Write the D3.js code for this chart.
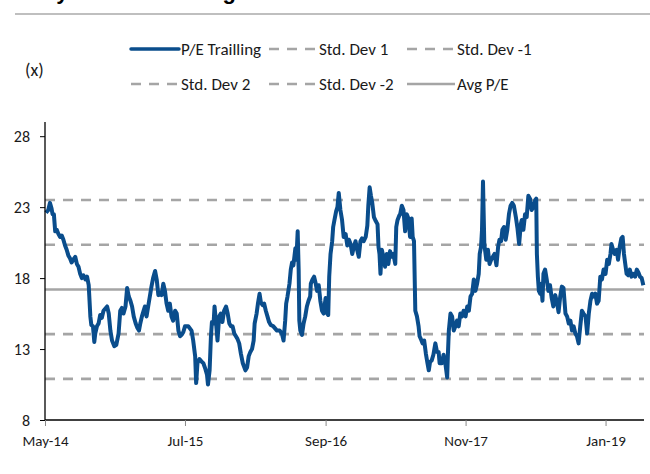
<!DOCTYPE html>
<html>
<head>
<meta charset="utf-8">
<script src="https://cdn.jsdelivr.net/npm/d3@7"></script>
<style>
  body { margin: 0; background: #fff; }
  svg { display: block; font-family: Carlito, Lato, "Liberation Sans", sans-serif; }
</style>
</head>
<body>
<svg width="650" height="474"></svg>
<script>
// P/E trailing [date, value]
const peSeries = [
  ["2014-05-04",22.6],["2014-05-11",22.8],["2014-05-16",23.3],["2014-05-21",22.9],["2014-05-24",22.5],["2014-05-28",22.5],
  ["2014-06-01",21.3],["2014-06-06",21.4],["2014-06-11",21.1],["2014-06-16",20.9],["2014-06-21",21.0],["2014-06-26",20.7],
  ["2014-07-01",20.3],["2014-07-06",20.0],["2014-07-11",19.6],["2014-07-16",19.4],["2014-07-21",19.1],["2014-07-26",19.3],
  ["2014-08-01",19.5],["2014-08-06",19.0],["2014-08-11",18.8],["2014-08-16",18.3],["2014-08-21",18.0],["2014-08-26",18.2],
  ["2014-09-01",17.9],["2014-09-06",18.1],["2014-09-11",17.5],["2014-09-14",16.2],["2014-09-16",15.3],["2014-09-19",14.7],
  ["2014-09-24",14.6],["2014-09-28",13.5],["2014-10-01",14.1],["2014-10-06",14.6],["2014-10-11",14.8],["2014-10-16",15.4],
  ["2014-10-21",15.2],["2014-10-26",15.7],["2014-11-06",16.0],["2014-11-11",15.5],["2014-11-16",14.3],["2014-11-21",13.6],
  ["2014-11-28",13.2],["2014-12-04",13.3],["2014-12-11",14.1],["2014-12-16",15.7],["2014-12-21",15.9],["2014-12-26",15.5],
  ["2015-01-01",16.0],["2015-01-06",17.3],["2015-01-11",16.7],["2015-01-16",16.4],["2015-01-21",16.0],["2015-01-26",15.3],
  ["2015-02-01",14.8],["2015-02-06",14.5],["2015-02-11",14.3],["2015-02-15",14.8],["2015-02-20",15.3],["2015-02-25",15.7],
  ["2015-03-01",16.0],["2015-03-06",15.3],["2015-03-11",16.0],["2015-03-16",16.7],["2015-03-21",17.4],["2015-03-26",18.0],
  ["2015-04-01",18.5],["2015-04-06",17.9],["2015-04-11",16.8],["2015-04-16",17.0],["2015-04-21",16.8],["2015-04-26",17.6],
  ["2015-05-01",17.1],["2015-05-06",16.2],["2015-05-11",15.7],["2015-05-16",16.2],["2015-05-21",15.3],["2015-05-26",15.0],
  ["2015-06-01",15.7],["2015-06-06",15.5],["2015-06-11",14.3],["2015-06-16",13.9],["2015-06-21",14.0],["2015-06-26",14.2],
  ["2015-07-01",14.6],["2015-07-11",14.6],["2015-07-21",14.3],["2015-07-26",13.6],["2015-08-01",12.5],["2015-08-04",10.6],
  ["2015-08-08",12.0],["2015-08-14",12.3],["2015-08-21",12.1],["2015-08-26",12.0],["2015-09-01",11.6],["2015-09-06",11.2],
  ["2015-09-09",10.5],["2015-09-14",11.5],["2015-09-18",13.9],["2015-09-21",14.9],["2015-09-26",14.8],["2015-09-29",16.0],
  ["2015-10-03",15.0],["2015-10-08",13.6],["2015-10-13",15.3],["2015-10-18",15.5],["2015-10-23",14.9],["2015-10-28",15.7],
  ["2015-11-03",16.0],["2015-11-08",15.5],["2015-11-13",14.8],["2015-11-18",14.6],["2015-11-23",14.6],["2015-11-28",14.1],
  ["2015-12-03",13.9],["2015-12-08",13.7],["2015-12-13",13.4],["2015-12-18",12.7],["2015-12-24",12.0],["2016-01-01",11.5],
  ["2016-01-06",11.7],["2016-01-11",12.5],["2016-01-16",12.8],["2016-01-21",13.0],["2016-01-26",13.6],["2016-01-29",14.8],
  ["2016-02-04",15.5],["2016-02-08",16.2],["2016-02-13",16.9],["2016-02-17",16.3],["2016-02-22",16.1],["2016-02-27",16.2],
  ["2016-03-03",15.7],["2016-03-08",15.3],["2016-03-13",14.9],["2016-03-18",14.7],["2016-03-26",14.6],["2016-04-06",14.3],
  ["2016-04-14",14.3],["2016-04-21",14.1],["2016-04-26",13.6],["2016-05-01",15.0],["2016-05-04",16.2],["2016-05-08",16.7],
  ["2016-05-14",17.6],["2016-05-18",18.6],["2016-05-22",19.1],["2016-05-26",18.9],["2016-06-01",20.1],["2016-06-04",19.3],
  ["2016-06-08",21.3],["2016-06-11",18.6],["2016-06-13",15.0],["2016-06-16",14.3],["2016-06-21",14.0],["2016-06-26",14.8],
  ["2016-07-01",15.3],["2016-07-06",16.0],["2016-07-11",16.4],["2016-07-16",16.7],["2016-07-18",17.6],["2016-07-23",17.9],
  ["2016-07-28",18.1],["2016-08-02",17.6],["2016-08-06",17.1],["2016-08-11",17.5],["2016-08-16",16.4],["2016-08-21",15.7],
  ["2016-08-26",15.5],["2016-09-01",16.6],["2016-09-06",15.5],["2016-09-09",15.4],["2016-09-12",18.1],["2016-09-16",19.7],
  ["2016-09-21",20.6],["2016-09-24",21.6],["2016-09-28",22.1],["2016-10-03",22.7],["2016-10-07",23.0],["2016-10-11",24.0],
  ["2016-10-16",22.8],["2016-10-21",22.1],["2016-10-26",20.9],["2016-11-01",21.1],["2016-11-06",20.3],["2016-11-11",20.7],
  ["2016-11-16",20.4],["2016-11-21",19.7],["2016-11-26",20.2],["2016-12-01",20.6],["2016-12-06",20.0],["2016-12-11",19.5],
  ["2016-12-16",20.6],["2016-12-21",20.8],["2016-12-26",20.6],["2017-01-01",20.9],["2017-01-06",21.7],["2017-01-09",23.1],
  ["2017-01-13",24.4],["2017-01-17",23.8],["2017-01-21",23.3],["2017-01-26",22.3],["2017-02-01",22.0],["2017-02-06",21.8],
  ["2017-02-09",20.2],["2017-02-12",19.7],["2017-02-15",18.3],["2017-02-19",20.0],["2017-02-24",19.5],["2017-03-01",18.8],
  ["2017-03-06",19.7],["2017-03-11",19.0],["2017-03-16",19.9],["2017-03-21",19.5],["2017-03-26",19.7],["2017-04-01",19.0],
  ["2017-04-04",21.6],["2017-04-08",22.1],["2017-04-13",22.4],["2017-04-16",22.5],["2017-04-21",23.1],["2017-04-26",22.8],
  ["2017-05-01",21.3],["2017-05-06",22.5],["2017-05-11",22.2],["2017-05-16",20.9],["2017-05-21",22.2],["2017-05-24",20.9],
  ["2017-05-28",20.6],["2017-06-01",15.7],["2017-06-06",15.3],["2017-06-11",14.6],["2017-06-14",13.9],["2017-06-18",13.7],
  ["2017-06-23",13.4],["2017-06-28",13.6],["2017-07-03",12.7],["2017-07-08",12.0],["2017-07-12",11.5],["2017-07-16",12.1],
  ["2017-07-21",12.2],["2017-07-26",12.6],["2017-08-01",13.4],["2017-08-06",12.8],["2017-08-11",12.8],["2017-08-14",12.0],
  ["2017-08-21",12.0],["2017-08-26",12.6],["2017-09-01",11.9],["2017-09-06",11.0],["2017-09-08",12.5],["2017-09-11",14.3],
  ["2017-09-16",15.5],["2017-09-21",15.3],["2017-09-26",14.3],["2017-10-01",14.6],["2017-10-06",15.0],["2017-10-11",14.6],
  ["2017-10-16",15.5],["2017-10-21",15.3],["2017-10-26",15.7],["2017-11-01",15.3],["2017-11-06",16.0],["2017-11-11",15.7],
  ["2017-11-16",16.7],["2017-11-21",16.9],["2017-11-26",17.9],["2017-12-01",17.1],["2017-12-06",17.6],["2017-12-11",18.3],
  ["2017-12-14",19.7],["2017-12-18",20.2],["2017-12-21",21.4],["2017-12-24",24.8],["2017-12-28",20.4],["2018-01-03",19.3],
  ["2018-01-08",20.0],["2018-01-13",19.0],["2018-01-18",19.3],["2018-01-23",19.5],["2018-01-28",19.7],["2018-02-03",18.9],
  ["2018-02-08",20.2],["2018-02-12",20.7],["2018-02-17",20.6],["2018-02-21",21.4],["2018-02-26",21.6],["2018-03-03",20.7],
  ["2018-03-08",21.4],["2018-03-13",22.5],["2018-03-18",23.1],["2018-03-23",23.3],["2018-03-28",23.1],["2018-04-03",22.3],
  ["2018-04-08",21.5],["2018-04-13",20.4],["2018-04-18",21.8],["2018-04-21",22.1],["2018-04-26",21.4],["2018-05-01",22.5],
  ["2018-05-06",22.3],["2018-05-11",23.8],["2018-05-16",23.6],["2018-05-21",22.8],["2018-05-26",23.0],["2018-06-01",23.5],
  ["2018-06-04",23.6],["2018-06-06",19.7],["2018-06-09",18.1],["2018-06-12",17.1],["2018-06-16",16.9],["2018-06-19",17.6],
  ["2018-06-23",16.4],["2018-06-26",18.3],["2018-07-01",18.6],["2018-07-06",17.9],["2018-07-11",17.1],["2018-07-16",17.5],
  ["2018-07-21",16.6],["2018-07-26",16.0],["2018-08-01",16.8],["2018-08-06",16.3],["2018-08-11",15.6],["2018-08-16",16.7],
  ["2018-08-21",17.4],["2018-08-26",17.3],["2018-09-01",15.5],["2018-09-06",15.3],["2018-09-11",14.8],["2018-09-16",15.0],
  ["2018-09-21",14.3],["2018-09-26",14.6],["2018-10-01",14.1],["2018-10-06",13.9],["2018-10-11",13.4],["2018-10-16",14.6],
  ["2018-10-21",15.7],["2018-10-26",15.5],["2018-11-01",15.3],["2018-11-06",14.1],["2018-11-11",15.5],["2018-11-16",16.4],
  ["2018-11-21",16.9],["2018-11-26",16.7],["2018-12-01",16.9],["2018-12-06",16.2],["2018-12-11",16.4],["2018-12-16",18.1],
  ["2018-12-21",17.9],["2018-12-26",18.6],["2019-01-01",18.3],["2019-01-06",19.3],["2019-01-11",19.0],["2019-01-16",19.7],
  ["2019-01-19",20.4],["2019-01-24",20.0],["2019-01-29",19.7],["2019-02-04",20.0],["2019-02-08",19.3],["2019-02-13",20.2],
  ["2019-02-18",20.8],["2019-02-22",20.9],["2019-02-26",19.7],["2019-03-02",19.0],["2019-03-06",18.3],["2019-03-11",18.2],
  ["2019-03-16",18.6],["2019-03-21",18.1],["2019-03-26",18.3],["2019-04-01",18.1],["2019-04-06",18.6],["2019-04-11",18.4],
  ["2019-04-16",18.1],["2019-04-21",18.0],["2019-04-26",17.5]
];

// band lines
const bandNames  = ["Std. Dev 1", "Std. Dev -1", "Std. Dev 2", "Std. Dev -2", "Avg P/E"];
const bandValues = [20.35, 14.05, 23.5, 10.9, 17.2];

const xTickDates = ["2014-05-01", "2015-07-01", "2016-09-01", "2017-11-01", "2019-01-01"];
const yTicks = [8, 13, 18, 23, 28];
const legendOrder = ["P/E Trailling", "Std. Dev 1", "Std. Dev -1", "Std. Dev 2", "Std. Dev -2", "Avg P/E"];

const parse = d3.timeParse("%Y-%m-%d");
const blue = "#0a4d8c", grey = "#a5a5a5";

const svg = d3.select("svg"),
      margin = {top: 122, right: 6, bottom: 54, left: 45},
      width = +svg.attr("width") - margin.left - margin.right,
      height = +svg.attr("height") - margin.top - margin.bottom;

// title (cut off at the top in the source) + rule above legend
svg.append("text")
  .attr("x", 16).attr("y", -1)
  .style("font-family", "'Liberation Sans', Arial, sans-serif")
  .style("font-weight", "bold").style("font-size", "22px")
  .text("Daily P/E and trading band");
svg.append("line")
  .attr("x1", 15).attr("x2", 650).attr("y1", 14).attr("y2", 14)
  .attr("stroke", "#bfbfbf").attr("stroke-width", 2);

svg.append("text")
  .attr("x", 25).attr("y", 76)
  .style("font-size", "18px").attr("fill", "#1a1a1a")
  .text("(x)");

const g = svg.append("g").attr("transform", `translate(${margin.left},${margin.top})`);

const x = d3.scaleTime().domain([parse("2014-05-01"), parse("2019-04-28")]).range([0, width]);
const y = d3.scaleLinear().domain([8, 29]).range([height, 0]);

// band lines
const dashed = name => name !== "Avg P/E";
g.append("g")
  .selectAll("line")
  .data(bandNames.map((n, i) => ({name: n, value: bandValues[i]})))
  .join("line")
  .attr("x1", 0).attr("x2", width)
  .attr("y1", d => y(d.value)).attr("y2", d => y(d.value))
  .attr("stroke", grey)
  .attr("stroke-width", 2.6)
  .attr("stroke-dasharray", d => dashed(d.name) ? "10,8" : null);

// P/E line
const line = d3.line().x(d => x(parse(d[0]))).y(d => y(d[1]));
g.append("path")
  .datum(peSeries)
  .attr("fill", "none")
  .attr("stroke", blue)
  .attr("stroke-width", 4)
  .attr("stroke-linejoin", "round")
  .attr("d", line);

// axes
const yAxis = g.append("g")
  .call(d3.axisLeft(y).tickValues(yTicks).tickSize(5).tickPadding(10));
yAxis.select(".domain").attr("stroke", "#000").attr("stroke-width", 1.3).attr("d", `M0,${height}V0`);
yAxis.selectAll(".tick line").attr("stroke", "#000");
yAxis.selectAll("text").style("font-size", "16px").attr("fill", "#1a1a1a")
  .style("font-family", "Carlito, Lato, sans-serif");

const xAxis = g.append("g")
  .attr("transform", `translate(0,${height})`)
  .call(d3.axisBottom(x).tickValues(xTickDates.map(parse)).tickFormat(d3.timeFormat("%b-%y")).tickSize(6).tickPadding(9));
xAxis.select(".domain").attr("stroke", "#000").attr("stroke-width", 1.3).attr("d", `M0,0H${width}`);
xAxis.selectAll(".tick line").attr("stroke", "#888");
xAxis.selectAll("text").style("font-size", "15px").attr("fill", "#1a1a1a")
  .style("font-family", "Carlito, Lato, sans-serif");

// legend
const legend = svg.append("g");
legendOrder.forEach((name, i) => {
  const lx = 131 + (i % 3) * 138,
        ly = i < 3 ? 49 : 84;
  const item = legend.append("g").attr("transform", `translate(${lx},${ly})`);
  const isPE = name === "P/E Trailling";
  item.append("line")
    .attr("x1", 0).attr("x2", 48).attr("y1", 0).attr("y2", 0)
    .attr("stroke", isPE ? blue : grey)
    .attr("stroke-width", isPE ? 3.5 : 2.6)
    .attr("stroke-linecap", isPE ? "round" : "butt")
    .attr("stroke-dasharray", (!isPE && dashed(name)) ? "10,8" : null);
  item.append("text")
    .attr("x", 50).attr("y", 6)
    .style("font-size", "17px").attr("fill", "#1a1a1a")
    .text(name);
});
</script>
</body>
</html>
